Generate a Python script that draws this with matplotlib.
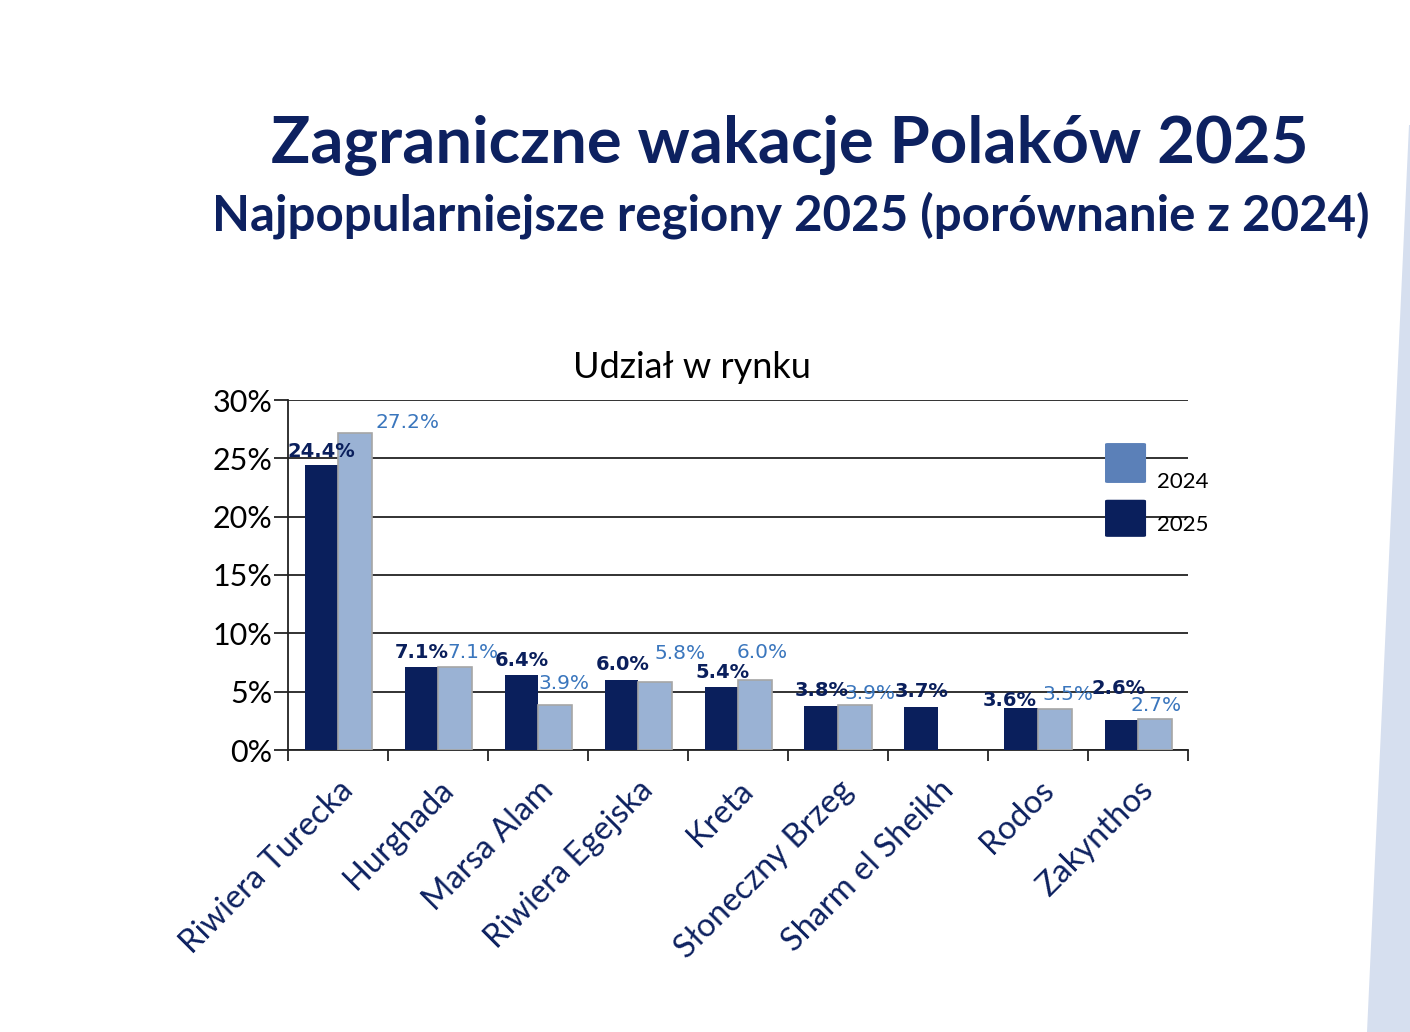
import numpy as np
import matplotlib
matplotlib.use("Agg")
import matplotlib.pyplot as plt
from matplotlib.patches import Polygon, FancyBboxPatch

# data
regions = ["Riwiera Turecka", "Hurghada", "Marsa Alam", "Riwiera Egejska", "Kreta",
           "Słoneczny Brzeg", "Sharm el Sheikh", "Rodos", "Zakynthos"]
share_2025 = [24.4, 7.1, 6.4, 6.0, 5.4, 3.8, 3.7, 3.6, 2.6]
share_2024 = [27.2, 7.1, 3.9, 5.8, 6.0, 3.9, np.nan, 3.5, 2.7]
yticks = [0, 5, 10, 15, 20, 25, 30]

# hand placed label offsets (pixels) like in the original slide
off_2025 = [(0, 14), (1, 15), (1, 15), (1, 15), (1, 15), (0, 15), (0, 15), (-12, 8), (-3, 31)]
off_2024 = [(53, 10), (18, 15), (9, 21), (25, 29), (7, 28), (15, 11), (0, 0), (13, 15), (1, 13)]

navy = "#0a1f5c"
light = "#9ab2d4"
label_blue = "#3a76bd"

fig = plt.figure(figsize=(14.1, 10.32), dpi=100)

# light blue wedge on the right edge of the slide
fig.patches.append(Polygon([[1409 / 1410, 1 - 125 / 1032], [1, 1 - 125 / 1032], [1, 0], [1367 / 1410, 0]],
                           closed=True, transform=fig.transFigure, facecolor="#d6dfef",
                           edgecolor="none"))

fig.text(790 / 1410, 1 - 146 / 1032, "Zagraniczne wakacje Polaków 2025", ha="center", va="center",
         fontsize=47, fontweight="bold", color="#0d2160", family="Lato")
fig.text(791 / 1410, 1 - 215 / 1032, "Najpopularniejsze regiony 2025 (porównanie z 2024)", ha="center",
         va="center", fontsize=35.5, fontweight="bold", color="#0d2160", family="Lato")
fig.text(692 / 1410, 1 - 367 / 1032, "Udział w rynku", ha="center", va="center",
         fontsize=26, family="Lato")

ax = fig.add_axes([288 / 1410, 1 - 750 / 1032, 900 / 1410, 350 / 1032])
x = np.arange(len(regions))
w = 0.335
b25 = ax.bar(x - w / 2, share_2025, w, color=navy, edgecolor="none", zorder=3)
b24 = ax.bar(x + w / 2, share_2024, w, color=light, edgecolor="#a6a6a6", linewidth=1.2, zorder=3)

for i, v in enumerate(share_2025):
    ax.annotate(f"{v:.1f}%", (x[i] - w / 2, v), xytext=off_2025[i], textcoords="offset pixels",
                ha="center", va="center", fontsize=14, fontweight="bold", color=navy,
                family="DejaVu Sans", zorder=5)
for i, v in enumerate(share_2024):
    if np.isnan(v):
        continue
    ax.annotate(f"{v:.1f}%", (x[i] + w / 2, v), xytext=off_2024[i], textcoords="offset pixels",
                ha="center", va="center", fontsize=14.5, color=label_blue,
                family="DejaVu Sans", zorder=5)

ax.set_xlim(-0.5, len(regions) - 0.5)
ax.set_ylim(0, 30)
ax.set_yticks(yticks)
ax.set_yticklabels([f"{t}%" for t in yticks], fontsize=22, family="Lato")
ax.yaxis.grid(True, color="#222222", linewidth=1.3, zorder=0)
ax.set_axisbelow(True)

ax.set_xticks(np.arange(len(regions) + 1) - 0.5, minor=False)
ax.set_xticklabels([])
ax.set_xticks(x, minor=True)
ax.set_xticklabels(regions, minor=True, rotation=45, ha="right", rotation_mode="anchor",
                   fontsize=23.5, color="#0d2160", family="Lato")
ax.tick_params(axis="x", which="minor", length=0, pad=18)
ax.tick_params(axis="x", which="major", length=8, width=1.3, color="#222222")
ax.tick_params(axis="y", length=10, width=1.3, color="#222222", pad=1)

for s in ["top", "right"]:
    ax.spines[s].set_visible(False)
for s in ["left", "bottom"]:
    ax.spines[s].set_color("#222222")
    ax.spines[s].set_linewidth(1.3)

# legend drawn by hand, as on the slide
for (y0, h, col) in [(0.763, 0.114, "#5b80b8"), (0.609, 0.106, navy)]:
    ax.add_patch(FancyBboxPatch((0.9078, y0), 0.0456, h, boxstyle="round,pad=0,rounding_size=0.003",
                                transform=ax.transAxes, facecolor=col, edgecolor="none",
                                zorder=6, clip_on=False))
for lab, ty in [("2024", 1 - 482 / 1032), ("2025", 1 - 525 / 1032)]:
    fig.text(1157 / 1410, ty, lab, ha="left", va="center", fontsize=16, family="Lato")

fig.savefig("out.png", dpi=100)
